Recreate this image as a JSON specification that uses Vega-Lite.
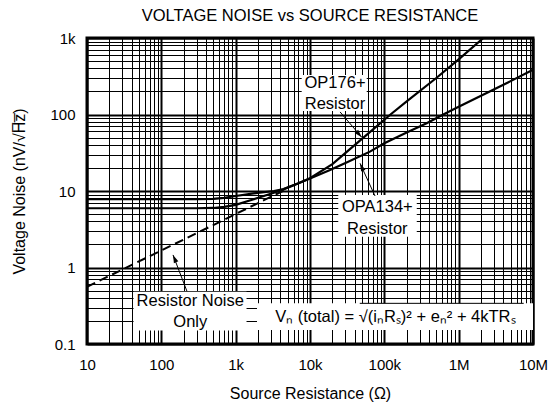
{
  "$schema": "https://vega.github.io/schema/vega-lite/v6.json",
  "width": 446,
  "height": 306,
  "autosize": {"type": "none"},
  "padding": {"left": 87, "top": 38, "right": 22, "bottom": 63},
  "background": "white",
  "title": {"text": "VOLTAGE NOISE vs SOURCE RESISTANCE", "font": "Liberation Sans", "fontSize": 16.5, "fontWeight": "normal", "color": "#000", "anchor": "middle", "offset": 7},
  "config": {
    "view": {"stroke": "#000", "strokeWidth": 3},
    "axis": {"labelFont": "Liberation Sans", "titleFont": "Liberation Sans", "labelColor": "#000", "titleColor": "#000", "titleFontWeight": "normal", "labelFontSize": 15, "titleFontSize": 16, "ticks": false, "domain": false, "gridColor": "#000", "gridOpacity": 1, "labelOverlap": false, "labelFlush": false}
  },
  "datasets": {
    "curves": [
      {"series": "OPA134", "x": 10, "y": 7.8}, {"series": "OPA134", "x": 100, "y": 7.8}, {"series": "OPA134", "x": 300, "y": 7.8}, {"series": "OPA134", "x": 500, "y": 7.9}, {"series": "OPA134", "x": 700, "y": 8.15}, {"series": "OPA134", "x": 1000, "y": 8.6}, {"series": "OPA134", "x": 1750, "y": 9.3}, {"series": "OPA134", "x": 3270, "y": 10.0}, {"series": "OPA134", "x": 4400, "y": 10.6}, {"series": "OPA134", "x": 7000, "y": 12.6}, {"series": "OPA134", "x": 10000, "y": 14.6}, {"series": "OPA134", "x": 18600, "y": 18.8}, {"series": "OPA134", "x": 30000, "y": 23.3}, {"series": "OPA134", "x": 64000, "y": 32.7}, {"series": "OPA134", "x": 100000, "y": 42}, {"series": "OPA134", "x": 200000, "y": 58}, {"series": "OPA134", "x": 371000, "y": 77}, {"series": "OPA134", "x": 621000, "y": 100}, {"series": "OPA134", "x": 1000000, "y": 126}, {"series": "OPA134", "x": 2000000, "y": 176}, {"series": "OPA134", "x": 5000000, "y": 273}, {"series": "OPA134", "x": 10000000, "y": 385},
      {"series": "OP176", "x": 10, "y": 5.95}, {"series": "OP176", "x": 100, "y": 5.95}, {"series": "OP176", "x": 300, "y": 5.95}, {"series": "OP176", "x": 500, "y": 6.0}, {"series": "OP176", "x": 700, "y": 6.2}, {"series": "OP176", "x": 1000, "y": 6.6}, {"series": "OP176", "x": 1750, "y": 7.8}, {"series": "OP176", "x": 3270, "y": 9.5}, {"series": "OP176", "x": 4400, "y": 10.5}, {"series": "OP176", "x": 7000, "y": 12.6}, {"series": "OP176", "x": 10000, "y": 14.7}, {"series": "OP176", "x": 20000, "y": 22.5}, {"series": "OP176", "x": 50000, "y": 48}, {"series": "OP176", "x": 121000, "y": 100}, {"series": "OP176", "x": 200000, "y": 148}, {"series": "OP176", "x": 500000, "y": 300}, {"series": "OP176", "x": 1000000, "y": 525}, {"series": "OP176", "x": 2150000, "y": 1000}
    ],
    "resistor": [
      {"x": 10, "y": 0.56}, {"x": 100, "y": 1.67}, {"x": 1000, "y": 4.99}, {"x": 2400, "y": 7.6}, {"x": 4500, "y": 10.2}
    ],
    "boxes": [
      {"x": 7730, "x2": 57900, "y": 111, "y2": 328},
      {"x": 24000, "x2": 273000, "y": 2.53, "y2": 8.88},
      {"x": 42.3, "x2": 1400, "y": 0.15, "y2": 0.483},
      {"x": 1936, "x2": 10000000, "y": 0.152, "y2": 0.34}
    ],
    "labels": [
      {"x": 21700, "y": 256, "text": "OP176+"},
      {"x": 21700, "y": 137, "text": "Resistor"},
      {"x": 80500, "y": 6.12, "text": "OPA134+"},
      {"x": 80500, "y": 3.16, "text": "Resistor"},
      {"x": 245, "y": 0.368, "text": "Resistor Noise"},
      {"x": 245, "y": 0.192, "text": "Only"},
      {"x": 140600, "y": 0.227, "text": "Vₙ (total) = √(iₙRₛ)² + eₙ² + 4kTRₛ"}
    ],
    "arrows": [
      {"x": 25400, "y": 108, "x2": 49700, "y2": 50.4, "angle": 137.9},
      {"x": 75000, "y": 8.6, "x2": 47100, "y2": 23, "angle": 335.8},
      {"x": 221, "y": 0.49, "x2": 143.6, "y2": 1.46, "angle": 337.2}
    ],
    "overline": [
      {"x": 46700, "x2": 7500000, "y": 0.34}
    ]
  },
  "encoding": {
    "x": {
      "field": "x", "type": "quantitative",
      "scale": {"type": "log", "domain": [10, 10000000], "nice": false},
      "axis": {
        "title": "Source Resistance (Ω)",
        "values": [10,20,30,40,50,60,70,80,90,100,200,300,400,500,600,700,800,900,1000,2000,3000,4000,5000,6000,7000,8000,9000,10000,20000,30000,40000,50000,60000,70000,80000,90000,100000,200000,300000,400000,500000,600000,700000,800000,900000,1000000,2000000,3000000,4000000,5000000,6000000,7000000,8000000,9000000,10000000],
        "labelExpr": "abs(log(datum.value)/LN10 - round(log(datum.value)/LN10)) < 0.01 ? format(datum.value, '~s') : ''",
        "gridWidth": {"condition": {"test": "abs(log(datum.value)/LN10 - round(log(datum.value)/LN10)) < 0.01", "value": 2}, "value": 1},
        "labelPadding": 13,
        "titlePadding": 13
      }
    },
    "y": {
      "field": "y", "type": "quantitative",
      "scale": {"type": "log", "domain": [0.1, 1000], "nice": false},
      "axis": {
        "title": "Voltage Noise (nV/√H̅z̅)",
        "values": [0.1,0.2,0.3,0.4,0.5,0.6,0.7,0.8,0.9,1,2,3,4,5,6,7,8,9,10,20,30,40,50,60,70,80,90,100,200,300,400,500,600,700,800,900,1000],
        "labelExpr": "datum.value == 1000 ? '1k' : (abs(log(datum.value)/LN10 - round(log(datum.value)/LN10)) < 0.01 ? format(datum.value, '~g') : '')",
        "gridWidth": {"condition": {"test": "abs(log(datum.value)/LN10 - round(log(datum.value)/LN10)) < 0.01", "value": 2}, "value": 1},
        "labelPadding": 12,
        "titlePadding": 22
      }
    }
  },
  "layer": [
    {
      "data": {"name": "boxes"},
      "mark": {"type": "rect", "fill": "white", "stroke": null},
      "encoding": {"x2": {"field": "x2"}, "y2": {"field": "y2"}}
    },
    {
      "data": {"name": "curves"},
      "mark": {"type": "line", "color": "#000", "strokeWidth": 2.2, "clip": true},
      "encoding": {"detail": {"field": "series", "type": "nominal"}}
    },
    {
      "data": {"name": "resistor"},
      "mark": {"type": "line", "color": "#000", "strokeWidth": 2, "strokeDash": [9, 5], "clip": true},
      "encoding": {}
    },
    {
      "data": {"name": "arrows"},
      "mark": {"type": "rule", "color": "#000", "strokeWidth": 1},
      "encoding": {"x2": {"field": "x2"}, "y2": {"field": "y2"}}
    },
    {
      "data": {"name": "arrows"},
      "mark": {"type": "point", "shape": "M0,0L-0.6,2L0.6,2Z", "filled": true, "color": "#000", "size": 64, "opacity": 1},
      "encoding": {
        "x": {"field": "x2", "type": "quantitative"},
        "y": {"field": "y2", "type": "quantitative"},
        "angle": {"field": "angle", "type": "quantitative", "scale": null}
      }
    },
    {
      "data": {"name": "overline"},
      "mark": {"type": "rule", "color": "#000", "strokeWidth": 1},
      "encoding": {"x2": {"field": "x2"}}
    },
    {
      "data": {"name": "labels"},
      "mark": {"type": "text", "font": "Liberation Sans", "fontSize": 16.5, "color": "#000", "align": "center", "baseline": "middle"},
      "encoding": {"text": {"field": "text"}}
    }
  ]
}
